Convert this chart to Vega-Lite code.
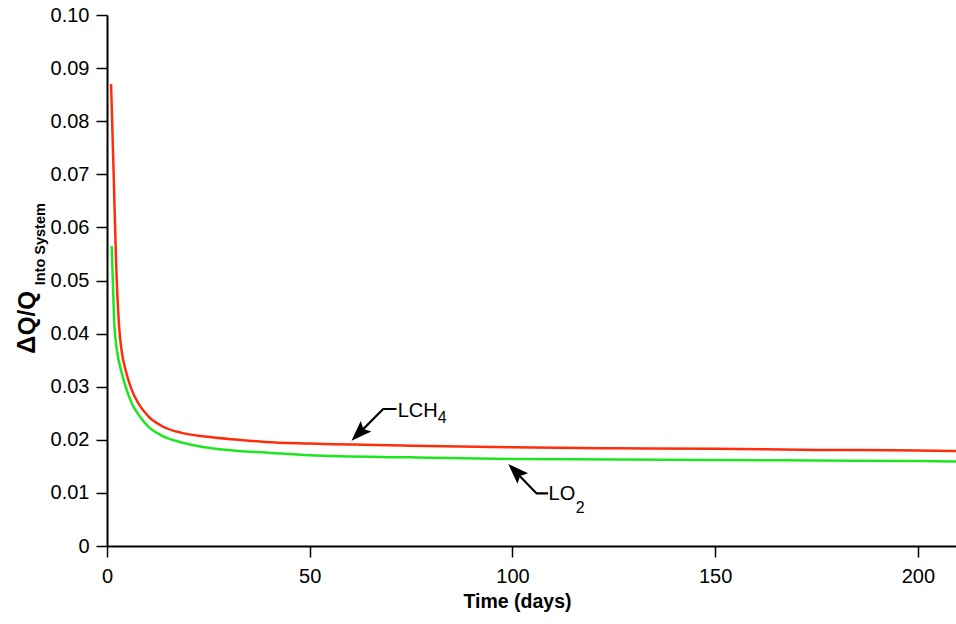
{
  "$schema": "https://vega.github.io/schema/vega-lite/v6.json",
  "autosize": "none",
  "width": 849,
  "height": 531,
  "padding": {"left": 107, "top": 15, "right": 0, "bottom": 78},
  "background": "white",
  "config": {
    "view": {"stroke": null},
    "axis": {
      "domainColor": "black", "domainWidth": 2, "tickColor": "black", "tickWidth": 1.5, "tickSize": 11,
      "labelFont": "Liberation Sans", "labelFontSize": 20, "labelColor": "black", "grid": false,
      "titleFont": "Liberation Sans", "titleColor": "black"
    }
  },
  "datasets": {
    "curves": [
      {"series": "LCH4", "day": 1.0, "value": 0.087},
      {"series": "LCH4", "day": 1.55, "value": 0.0727},
      {"series": "LCH4", "day": 2.22, "value": 0.0539},
      {"series": "LCH4", "day": 2.96, "value": 0.0416},
      {"series": "LCH4", "day": 3.6, "value": 0.0368},
      {"series": "LCH4", "day": 4.6, "value": 0.0331},
      {"series": "LCH4", "day": 6.1, "value": 0.0294},
      {"series": "LCH4", "day": 7.7, "value": 0.0269},
      {"series": "LCH4", "day": 10.2, "value": 0.0244},
      {"series": "LCH4", "day": 13.5, "value": 0.0226},
      {"series": "LCH4", "day": 18.4, "value": 0.0213},
      {"series": "LCH4", "day": 24.2, "value": 0.0206},
      {"series": "LCH4", "day": 32.4, "value": 0.02},
      {"series": "LCH4", "day": 39, "value": 0.0196},
      {"series": "LCH4", "day": 50, "value": 0.0193},
      {"series": "LCH4", "day": 75, "value": 0.0189},
      {"series": "LCH4", "day": 100, "value": 0.0186},
      {"series": "LCH4", "day": 126, "value": 0.0184},
      {"series": "LCH4", "day": 150, "value": 0.0183},
      {"series": "LCH4", "day": 175, "value": 0.0181},
      {"series": "LCH4", "day": 200, "value": 0.018},
      {"series": "LCH4", "day": 209.4, "value": 0.0179},
      {"series": "LO2", "day": 1.15, "value": 0.0565},
      {"series": "LO2", "day": 1.4, "value": 0.0507},
      {"series": "LO2", "day": 1.81, "value": 0.0418},
      {"series": "LO2", "day": 2.55, "value": 0.0364},
      {"series": "LO2", "day": 3.45, "value": 0.0331},
      {"series": "LO2", "day": 4.85, "value": 0.0294},
      {"series": "LO2", "day": 6.1, "value": 0.0269},
      {"series": "LO2", "day": 8.1, "value": 0.0244},
      {"series": "LO2", "day": 10.2, "value": 0.0225},
      {"series": "LO2", "day": 13.5, "value": 0.0208},
      {"series": "LO2", "day": 18.4, "value": 0.0195},
      {"series": "LO2", "day": 24.2, "value": 0.0186},
      {"series": "LO2", "day": 32.4, "value": 0.0179},
      {"series": "LO2", "day": 39, "value": 0.0176},
      {"series": "LO2", "day": 50, "value": 0.0171},
      {"series": "LO2", "day": 75, "value": 0.0167},
      {"series": "LO2", "day": 100, "value": 0.0164},
      {"series": "LO2", "day": 126, "value": 0.0163},
      {"series": "LO2", "day": 150, "value": 0.0162},
      {"series": "LO2", "day": 175, "value": 0.0161},
      {"series": "LO2", "day": 200, "value": 0.016},
      {"series": "LO2", "day": 209.4, "value": 0.0159}
    ],
    "leaders": [
      {"grp": "a", "ord": 1, "day": 62.4, "value": 0.0214},
      {"grp": "a", "ord": 2, "day": 68.1, "value": 0.0258},
      {"grp": "a", "ord": 3, "day": 71.4, "value": 0.0258},
      {"grp": "b", "ord": 1, "day": 100.9, "value": 0.0139},
      {"grp": "b", "ord": 2, "day": 105.95, "value": 0.0099},
      {"grp": "b", "ord": 3, "day": 108.8, "value": 0.0099}
    ],
    "heads": [
      {"day": 60.3, "value": 0.0198, "angle": 225},
      {"day": 98.96, "value": 0.01544, "angle": 315}
    ],
    "labels": [
      {"text": "LCH", "day": 71.7, "value": 0.0243, "size": 20},
      {"text": "4", "day": 81.6, "value": 0.0232, "size": 16},
      {"text": "LO", "day": 108.9, "value": 0.00866, "size": 20},
      {"text": "2", "day": 115.6, "value": 0.0062, "size": 16}
    ]
  },
  "layer": [
    {
      "mark": {"type": "rule", "color": "black", "strokeWidth": 2},
      "encoding": {"y": {"datum": 0.1, "type": "quantitative"}}
    },
    {
      "data": {"name": "curves"},
      "mark": {"type": "line", "strokeWidth": 2.5, "clip": true, "interpolate": "monotone"},
      "encoding": {
        "x": {"field": "day", "type": "quantitative",
          "scale": {"domain": [0, 209.4], "nice": false, "zero": false},
          "axis": {"values": [0, 50, 100, 150, 200], "labelPadding": 9, "labelFlush": false,
            "title": "Time (days)", "titleFontSize": 19.5, "titleFontWeight": "bold",
            "titleX": 410, "titleY": 61, "titleBaseline": "alphabetic", "titleAnchor": null}},
        "y": {"field": "value", "type": "quantitative",
          "scale": {"domain": [0, 0.1], "nice": false},
          "axis": {"values": [0, 0.01, 0.02, 0.03, 0.04, 0.05, 0.06, 0.07, 0.08, 0.09, 0.1],
            "labelExpr": "datum.value == 0 ? '0' : format(datum.value, '.2f')",
            "labelPadding": 7, "labelFlush": false, "title": null}},
        "color": {"field": "series", "type": "nominal",
          "scale": {"domain": ["LCH4", "LO2"], "range": ["#ff2d0a", "#1ee61e"]}, "legend": null}
      }
    },
    {
      "data": {"name": "leaders"},
      "mark": {"type": "line", "color": "black", "strokeWidth": 2.2},
      "encoding": {
        "x": {"field": "day", "type": "quantitative"},
        "y": {"field": "value", "type": "quantitative"},
        "detail": {"field": "grp"},
        "order": {"field": "ord"}
      }
    },
    {
      "data": {"name": "heads"},
      "mark": {"type": "point", "filled": true, "color": "black", "opacity": 1,
        "shape": "M0,0L0.4,1.1L0,0.9L-0.4,1.1Z", "size": 1400},
      "encoding": {
        "x": {"field": "day", "type": "quantitative"},
        "y": {"field": "value", "type": "quantitative"},
        "angle": {"field": "angle", "type": "quantitative", "scale": null}
      }
    },
    {
      "data": {"name": "labels"},
      "mark": {"type": "text", "align": "left", "baseline": "alphabetic", "font": "Liberation Sans", "color": "black"},
      "encoding": {
        "x": {"field": "day", "type": "quantitative"},
        "y": {"field": "value", "type": "quantitative"},
        "text": {"field": "text"},
        "size": {"field": "size", "type": "quantitative", "scale": null}
      }
    },
    {
      "data": {"values": [
        {"text": "Δ", "day": -17.76, "value": 0.0362, "size": 25, "style": "normal"},
        {"text": "Q/Q", "day": -17.76, "value": 0.0397, "size": 24, "style": "italic"},
        {"text": "Into System", "day": -15.4, "value": 0.0491, "size": 14.5, "style": "normal"}
      ]},
      "mark": {"type": "text", "align": "left", "baseline": "alphabetic", "angle": 270, "font": "Liberation Sans", "fontWeight": "bold", "color": "black"},
      "encoding": {
        "x": {"field": "day", "type": "quantitative"},
        "y": {"field": "value", "type": "quantitative"},
        "text": {"field": "text"},
        "size": {"field": "size", "type": "quantitative", "scale": null},
        "fontStyle": {"field": "style"}
      }
    }
  ]
}
